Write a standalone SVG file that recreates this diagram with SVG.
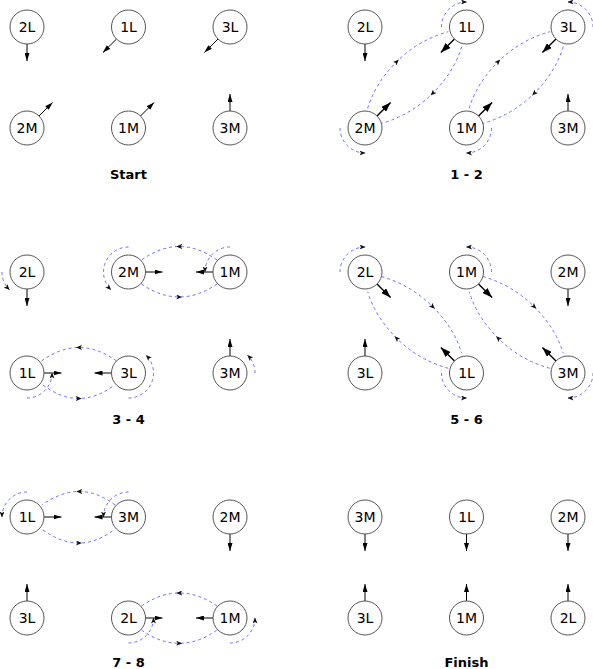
<svg xmlns="http://www.w3.org/2000/svg" width="593" height="669" viewBox="0 0 593 669">
<defs>
<style>
.n circle{fill:#fff;stroke:#555;stroke-width:1}
.n text{font-family:"DejaVu Sans",sans-serif;font-size:14px;text-anchor:middle;fill:#000}
.a{stroke:#000;stroke-width:1;fill:none;marker-end:url(#ah)}
.b{stroke:#000;stroke-width:1.4;fill:none;marker-end:url(#ahb)}
.c{stroke:#6b6bff;stroke-width:1;stroke-dasharray:3,3;fill:none;marker-mid:url(#am)}
.l{stroke:#6b6bff;stroke-width:1;stroke-dasharray:3,3;fill:none;marker-end:url(#ae)}
.t{font-family:"DejaVu Sans",sans-serif;font-weight:bold;font-size:13px;text-anchor:middle;fill:#000}
</style>
<marker id="ah" viewBox="0 0 8 5" refX="8" refY="2.5" markerWidth="8" markerHeight="5" markerUnits="userSpaceOnUse" orient="auto"><path d="M0,0 L8,2.5 L0,5 z" fill="#000"/></marker>
<marker id="ahb" viewBox="0 0 10 7" refX="10" refY="3.5" markerWidth="10" markerHeight="7" markerUnits="userSpaceOnUse" orient="auto"><path d="M0,0 L10,3.5 L0,7 z" fill="#000"/></marker>
<marker id="am" viewBox="0 0 6 5" refX="3" refY="2.5" markerWidth="6" markerHeight="5" markerUnits="userSpaceOnUse" orient="auto"><path d="M0,0 L6,2.5 L0,5 L1.5,2.5 z" fill="#111"/></marker>
<marker id="ae" viewBox="0 0 6 5" refX="5.5" refY="2.5" markerWidth="6" markerHeight="5" markerUnits="userSpaceOnUse" orient="auto"><path d="M0,0 L6,2.5 L0,5 L1.5,2.5 z" fill="#111"/></marker>
</defs>
<rect width="593" height="669" fill="#fff"/>

<g id="connectors">
<!-- Panel Start -->
<line class="a" x1="27" y1="44" x2="27" y2="61"/>
<line class="a" x1="116.5" y1="39" x2="102.9" y2="52.6"/>
<line class="a" x1="218" y1="39" x2="204.4" y2="52.6"/>
<line class="a" x1="39" y1="116" x2="52.6" y2="102.4"/>
<line class="a" x1="140.5" y1="116" x2="154.1" y2="102.4"/>
<line class="a" x1="230" y1="111" x2="230" y2="94"/>

<!-- Panel 1-2 -->
<line class="a" x1="365" y1="44" x2="365" y2="61"/>
<line class="b" x1="454.5" y1="39" x2="440.9" y2="52.6"/>
<line class="b" x1="556" y1="39" x2="542.4" y2="52.6"/>
<line class="b" x1="377" y1="116" x2="390.6" y2="102.4"/>
<line class="b" x1="478.5" y1="116" x2="492.1" y2="102.4"/>
<line class="a" x1="568" y1="111" x2="568" y2="94"/>
<path class="c" d="M367.7,108.3 Q375.2,83.2 396.7,61.7 T448.3,31.7"/>
<path class="c" d="M461.7,46.7 Q454.2,71.8 432.7,93.3 T381.4,123.5"/>
<path class="c" d="M469.2,108.3 Q476.7,83.2 498.2,61.7 T549.8,31.7"/>
<path class="c" d="M563.2,46.7 Q555.7,71.8 534.2,93.3 T482.9,123.5"/>
<path class="l" d="M441.5,27 A25,25 0 0 1 466.5,2"/>
<path class="l" d="M340,128 A25,25 0 0 0 365,153"/>
<path class="l" d="M491.5,128 A25,25 0 0 1 466.5,153"/>
<path class="l" d="M593,27 A25,25 0 0 0 568,2"/>

<!-- Panel 3-4 -->
<line class="a" x1="27" y1="289" x2="27" y2="306"/>
<line class="a" x1="145.5" y1="272" x2="162.5" y2="272"/>
<line class="a" x1="213" y1="272" x2="196" y2="272"/>
<line class="a" x1="44" y1="373" x2="61.5" y2="373"/>
<line class="a" x1="111.5" y1="373" x2="94.5" y2="373"/>
<line class="a" x1="230" y1="356" x2="230" y2="339"/>
<path class="c" d="M217,260 Q198,246.5 179.25,246.5 T141.5,260"/>
<path class="c" d="M141.5,284 Q160.5,297 179.25,297 T217,284"/>
<path class="c" d="M116.5,361 Q97.75,347.5 79,347.5 T41.5,361"/>
<path class="c" d="M43,385 Q61,398.5 78.75,398.5 T114.5,385"/>
<path class="l" d="M2,272 A25,25 0 0 0 9.32,289.68"/>
<path class="l" d="M128.5,247 A25,25 0 0 0 110.82,289.68"/>
<path class="l" d="M230,247 A25,25 0 0 0 205,272"/>
<path class="l" d="M27,398 A25,25 0 0 0 52,373"/>
<path class="l" d="M128.5,398 A25,25 0 0 0 146.18,355.32"/>
<path class="l" d="M255,373 A25,25 0 0 0 247.68,355.32"/>

<!-- Panel 5-6 -->
<line class="b" x1="377" y1="284" x2="390.6" y2="297.6"/>
<line class="b" x1="478.5" y1="284" x2="492.1" y2="297.6"/>
<line class="a" x1="568" y1="289" x2="568" y2="306"/>
<line class="a" x1="365" y1="356" x2="365" y2="339"/>
<line class="b" x1="454.5" y1="361" x2="440.9" y2="347.4"/>
<line class="b" x1="556" y1="361" x2="542.4" y2="347.4"/>
<path class="c" d="M448.3,368.3 Q418.2,359.8 396.7,338.3 T367.7,291.7"/>
<path class="c" d="M381.4,276.5 Q411.2,285.2 432.7,306.7 T461.7,353.3"/>
<path class="c" d="M549.8,368.3 Q519.7,359.8 498.2,338.3 T469.2,291.7"/>
<path class="c" d="M482.9,276.5 Q512.7,285.2 534.2,306.7 T563.2,353.3"/>
<path class="l" d="M340,272 A25,25 0 0 1 365,247"/>
<path class="l" d="M491.5,272 A25,25 0 0 0 466.5,247"/>
<path class="l" d="M441.5,373 A25,25 0 0 0 466.5,398"/>
<path class="l" d="M593,373 A25,25 0 0 1 568,398"/>

<!-- Panel 7-8 -->
<line class="a" x1="44" y1="517" x2="61.5" y2="517"/>
<line class="a" x1="111.5" y1="517" x2="94.5" y2="517"/>
<line class="a" x1="230" y1="534" x2="230" y2="551"/>
<line class="a" x1="27" y1="601" x2="27" y2="584"/>
<line class="a" x1="145.5" y1="618" x2="162.5" y2="618"/>
<line class="a" x1="213" y1="618" x2="196" y2="618"/>
<path class="c" d="M115,505 Q97.5,491.5 79.25,491.5 T42,505"/>
<path class="c" d="M43,530 Q61,543 79,543 T115,529"/>
<path class="c" d="M217,606 Q198.5,593 179.25,593 T141.5,606"/>
<path class="c" d="M141.5,630 Q160,643.3 179.25,643.3 T217,630"/>
<path class="l" d="M27,492 A25,25 0 0 0 2,517"/>
<path class="l" d="M128.5,492 A25,25 0 0 0 103.5,517"/>
<path class="l" d="M128.5,643 A25,25 0 0 0 153.5,618"/>
<path class="l" d="M230,643 A25,25 0 0 0 255,618"/>

<!-- Panel Finish -->
<line class="a" x1="365" y1="534" x2="365" y2="551"/>
<line class="a" x1="466.5" y1="534" x2="466.5" y2="551"/>
<line class="a" x1="568" y1="534" x2="568" y2="551"/>
<line class="a" x1="365" y1="601" x2="365" y2="584"/>
<line class="a" x1="466.5" y1="601" x2="466.5" y2="584"/>
<line class="a" x1="568" y1="601" x2="568" y2="584"/>
</g>

<!-- Start -->
<g id="s-2L" class="n"><circle cx="27" cy="27" r="17"/><text x="27" y="32">2L</text></g>
<g id="s-1L" class="n"><circle cx="128.5" cy="27" r="17"/><text x="128.5" y="32">1L</text></g>
<g id="s-3L" class="n"><circle cx="230" cy="27" r="17"/><text x="230" y="32">3L</text></g>
<g id="s-2M" class="n"><circle cx="27" cy="128" r="17"/><text x="27" y="133">2M</text></g>
<g id="s-1M" class="n"><circle cx="128.5" cy="128" r="17"/><text x="128.5" y="133">1M</text></g>
<g id="s-3M" class="n"><circle cx="230" cy="128" r="17"/><text x="230" y="133">3M</text></g>
<text class="t" x="128.5" y="179">Start</text>

<!-- 1-2 -->
<g id="a-2L" class="n"><circle cx="365" cy="27" r="17"/><text x="365" y="32">2L</text></g>
<g id="a-1L" class="n"><circle cx="466.5" cy="27" r="17"/><text x="466.5" y="32">1L</text></g>
<g id="a-3L" class="n"><circle cx="568" cy="27" r="17"/><text x="568" y="32">3L</text></g>
<g id="a-2M" class="n"><circle cx="365" cy="128" r="17"/><text x="365" y="133">2M</text></g>
<g id="a-1M" class="n"><circle cx="466.5" cy="128" r="17"/><text x="466.5" y="133">1M</text></g>
<g id="a-3M" class="n"><circle cx="568" cy="128" r="17"/><text x="568" y="133">3M</text></g>
<text class="t" x="466.5" y="179">1 - 2</text>

<!-- 3-4 -->
<g id="b-2L" class="n"><circle cx="27" cy="272" r="17"/><text x="27" y="277">2L</text></g>
<g id="b-2M" class="n"><circle cx="128.5" cy="272" r="17"/><text x="128.5" y="277">2M</text></g>
<g id="b-1M" class="n"><circle cx="230" cy="272" r="17"/><text x="230" y="277">1M</text></g>
<g id="b-1L" class="n"><circle cx="27" cy="373" r="17"/><text x="27" y="378">1L</text></g>
<g id="b-3L" class="n"><circle cx="128.5" cy="373" r="17"/><text x="128.5" y="378">3L</text></g>
<g id="b-3M" class="n"><circle cx="230" cy="373" r="17"/><text x="230" y="378">3M</text></g>
<text class="t" x="128.5" y="424">3 - 4</text>

<!-- 5-6 -->
<g id="c-2L" class="n"><circle cx="365" cy="272" r="17"/><text x="365" y="277">2L</text></g>
<g id="c-1M" class="n"><circle cx="466.5" cy="272" r="17"/><text x="466.5" y="277">1M</text></g>
<g id="c-2M" class="n"><circle cx="568" cy="272" r="17"/><text x="568" y="277">2M</text></g>
<g id="c-3L" class="n"><circle cx="365" cy="373" r="17"/><text x="365" y="378">3L</text></g>
<g id="c-1L" class="n"><circle cx="466.5" cy="373" r="17"/><text x="466.5" y="378">1L</text></g>
<g id="c-3M" class="n"><circle cx="568" cy="373" r="17"/><text x="568" y="378">3M</text></g>
<text class="t" x="466.5" y="424">5 - 6</text>

<!-- 7-8 -->
<g id="d-1L" class="n"><circle cx="27" cy="517" r="17"/><text x="27" y="522">1L</text></g>
<g id="d-3M" class="n"><circle cx="128.5" cy="517" r="17"/><text x="128.5" y="522">3M</text></g>
<g id="d-2M" class="n"><circle cx="230" cy="517" r="17"/><text x="230" y="522">2M</text></g>
<g id="d-3L" class="n"><circle cx="27" cy="618" r="17"/><text x="27" y="623">3L</text></g>
<g id="d-2L" class="n"><circle cx="128.5" cy="618" r="17"/><text x="128.5" y="623">2L</text></g>
<g id="d-1M" class="n"><circle cx="230" cy="618" r="17"/><text x="230" y="623">1M</text></g>
<text class="t" x="128.5" y="667">7 - 8</text>

<!-- Finish -->
<g id="f-3M" class="n"><circle cx="365" cy="517" r="17"/><text x="365" y="522">3M</text></g>
<g id="f-1L" class="n"><circle cx="466.5" cy="517" r="17"/><text x="466.5" y="522">1L</text></g>
<g id="f-2M" class="n"><circle cx="568" cy="517" r="17"/><text x="568" y="522">2M</text></g>
<g id="f-3L" class="n"><circle cx="365" cy="618" r="17"/><text x="365" y="623">3L</text></g>
<g id="f-1M" class="n"><circle cx="466.5" cy="618" r="17"/><text x="466.5" y="623">1M</text></g>
<g id="f-2L" class="n"><circle cx="568" cy="618" r="17"/><text x="568" y="623">2L</text></g>
<text class="t" x="466.5" y="667">Finish</text>
</svg>
